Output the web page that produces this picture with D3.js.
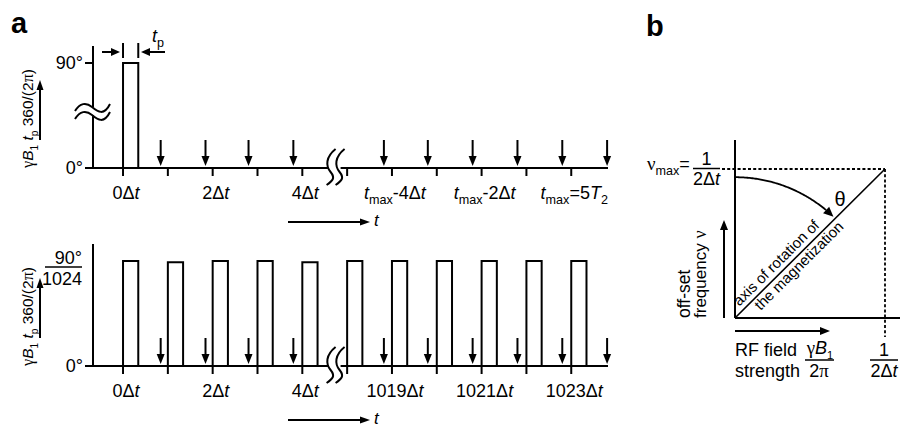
<!DOCTYPE html>
<html><head><meta charset="utf-8">
<script src="https://cdn.jsdelivr.net/npm/d3@7"></script>
<style>
body{margin:0;background:#fff}
svg{display:block}
text{font-family:"Liberation Sans",Arial,Helvetica,sans-serif;fill:#000;white-space:pre}
</style>
</head><body>
<svg id="c" width="901" height="427"></svg>
<script>
// ---------------- data ----------------
const tickIndex = [0,1,2,3,4,5,6,7,8,9,10];
const labelIndex = [0,2,4,6,8,10];
const topTickLabels = ["0Δ*t*","2Δ*t*","4Δ*t*","*t*_max_-4Δ*t*","*t*_max_-2Δ*t*","*t*_max_=5*T*_2_"];
const bottomTickLabels = ["0Δ*t*","2Δ*t*","4Δ*t*","1019Δ*t*","1021Δ*t*","1023Δ*t*"];
const topPulseStart = [0];
const topPulseAngle = [90];
const bottomPulseStart = [0,1,2,3,4,5,6,7,8,9,10];
const bottomPulseAngle = [90,89,90,90,89,90,90,90,90,90,90]; // in units of 1/1024
const pulseWidth = 0.34;          // t_p in units of Δt
const acquireIndex = [0.84,1.84,2.8,3.8,5.82,6.8,7.8,8.8,9.8,10.8];
const breakIndex = 4.72;
const yTickValues = [0,90];
const yTickLabels = ["0°","90°"];
const bottomDivisor = "1024";
const yAxisLabel = "~γ~*B*_1_ *t*_p_ 360/(2~π~)";
const tpLabel = "*t*_p_";
const timeLabel = "*t*";
// panel b
const rotationAxis = [[0,0],[1,1]];
const nuMaxLabel = "~ν~_max_=";
const arcRadius = 0.945, arcFrom = 90, arcTo = 45.6;
const thetaLabel = "θ";
const bYLabel = ["off-set","frequency ~ν~"];
const bXLabel = ["RF field","strength"];

// ---------------- helpers ----------------
const svg = d3.select('#c');
const SERIF = '"Liberation Serif","Times New Roman",serif';
function rich(t, str, size, subScale=0.7){
  t.attr('font-size', size);
  const parts = str.split(/(\*[^*]+\*|_[^_]+_|~[^~]+~)/).filter(s=>s.length);
  let shift = 0;
  parts.forEach(p=>{
    let txt=p, it=false, sub=false, serif=false;
    if(p[0]==='*'){txt=p.slice(1,-1);it=true;}
    else if(p[0]==='_'){txt=p.slice(1,-1);sub=true;}
    else if(p[0]==='~'){txt=p.slice(1,-1);serif=true;}
    const ts = t.append('tspan').text(txt);
    if(it) ts.attr('font-style','italic');
    if(serif) ts.attr('font-family',SERIF).attr('font-size',size*1.05);
    const target = sub ? size*0.3 : 0;
    if(target!==shift){ ts.attr('dy', target-shift); shift=target; }
    if(sub) ts.attr('font-size', size*subScale);
  });
  return t;
}
function arrow(g,x1,y1,x2,y2,head=9,hw=4,sw=2){
  const dx=x2-x1, dy=y2-y1, L=Math.hypot(dx,dy), ux=dx/L, uy=dy/L;
  const bx=x2-ux*head, by=y2-uy*head;
  g.append('line').attr('x1',x1).attr('y1',y1).attr('x2',bx+ux).attr('y2',by+uy)
    .attr('stroke','#000').attr('stroke-width',sw);
  g.append('path').attr('d',`M${x2},${y2}L${bx-uy*hw},${by+ux*hw}L${bx+uy*hw},${by-ux*hw}Z`).attr('fill','#000');
}
function line(g,x1,y1,x2,y2,sw=2){
  return g.append('line').attr('x1',x1).attr('y1',y1).attr('x2',x2).attr('y2',y2)
    .attr('stroke','#000').attr('stroke-width',sw);
}

// ---------------- panel a ----------------
const x = d3.scaleLinear().domain([-0.67, 10.82]).range([93, 608]);
const yTop = d3.scaleLinear().domain([0,90]).range([168,63]);
const yBot = d3.scaleLinear().domain([0,90]).range([366,261]);

function panel(y, pulseStart, pulseAngle, labels, isTop){
  const g = svg.append('g');
  const y0 = y(0), xa = x.range()[0], xe = x.range()[1];
  const axisTop = y(104.5);
  // y axis
  if(isTop){
    line(g,xa,y0,xa,115);
    line(g,xa,107,xa,axisTop);
    g.append('path').attr('d','M75,111 C80,103 86,102 92,107 S104,116 110,104').attr('fill','none').attr('stroke','#000').attr('stroke-width',2);
    g.append('path').attr('d','M75,119 C80,111 86,110 92,115 S104,124 110,112').attr('fill','none').attr('stroke','#000').attr('stroke-width',2);
  } else {
    line(g,xa,y0,xa,axisTop);
  }
  // baseline with break
  const bx = x(breakIndex);
  line(g,xa,y0,bx-6,y0,2.2);
  line(g,bx+6,y0,xe,y0,2.2);
  [-5,4].forEach(o=>{
    const c=bx+o;
    g.append('path').attr('d',`M${c+6},${y0-19} C${c-4},${y0-11} ${c-4},${y0-2} ${c+1},${y0+4} S${c+3},${y0+13} ${c-3},${y0+17}`)
      .attr('fill','none').attr('stroke','#000').attr('stroke-width',2);
  });
  // ticks
  tickIndex.forEach(i=>line(g,x(i),y0,x(i),y0+8,2));
  // pulses
  pulseStart.forEach((s,k)=>{
    g.append('path').attr('d',`M${x(s)},${y0}V${y(pulseAngle[k])}H${x(s+pulseWidth)}V${y0}`)
      .attr('fill','none').attr('stroke','#000').attr('stroke-width',2);
  });
  // acquisition arrows
  acquireIndex.forEach(a=>arrow(g,x(a),y0-28,x(a),y0-2,10,4,2));
  // x tick labels
  labelIndex.forEach((i,k)=>{
    rich(g.append('text').attr('x',x(i)+3).attr('y',y0+31).attr('text-anchor','middle'), labels[k], 18);
  });
  // time arrow
  arrow(g,288,y0+54,370,y0+54,10,3.5,2);
  rich(g.append('text').attr('x',374).attr('y',y0+58),timeLabel,17);
  // y tick labels
  line(g,85,y0,xa,y0,2);
  g.append('text').attr('x',83).attr('y',y0+6).attr('text-anchor','end').attr('font-size',18).text(yTickLabels[0]);
  if(isTop){
    line(g,85,y(90),xa,y(90),2);
    g.append('text').attr('x',83).attr('y',y(90)+6).attr('text-anchor','end').attr('font-size',18).text(yTickLabels[1]);
  } else {
    g.append('text').attr('x',82).attr('y',y(90)+3).attr('text-anchor','end').attr('font-size',18).text(yTickLabels[1]);
    line(g,45,y(90)+6,82,y(90)+6,1.5);
    g.append('text').attr('x',82).attr('y',y(90)+24).attr('text-anchor','end').attr('font-size',18).text(bottomDivisor);
  }
  // y axis label + arrow
  rich(g.append('text').attr('transform',`translate(33,${y0}) rotate(-90)`), yAxisLabel, 15.5, 0.65);
  arrow(g,40,y0-28,40,y0-88,10,3.5,2);
  return g;
}

const gTop = panel(yTop, topPulseStart, topPulseAngle, topTickLabels, true);
const gBot = panel(yBot, bottomPulseStart, bottomPulseAngle, bottomTickLabels, false);

// t_p annotation
line(gTop,x(0),43,x(0),58,2);
line(gTop,x(pulseWidth),43,x(pulseWidth),58,2);
arrow(gTop,102,52,120,52,9,4,2);
arrow(gTop,165,52,141,52,9,4,2);
rich(gTop.append('text').attr('x',152).attr('y',42),tpLabel,18);

// panel labels
svg.append('text').attr('x',11).attr('y',33).attr('font-size',29).attr('font-weight','bold').text('a');
svg.append('text').attr('x',646).attr('y',36).attr('font-size',29).attr('font-weight','bold').text('b');

// ---------------- panel b ----------------
const xb = d3.scaleLinear().domain([0,1]).range([735,885]);
const yb = d3.scaleLinear().domain([0,1]).range([318,169]);
const gb = svg.append('g');
// axes
line(gb,xb(0),yb(0),xb(0),yb(1.195),2);
line(gb,xb(0),yb(0),xb(1.1),yb(0),2.2);
// dashed limits
line(gb,722,yb(1),xb(1),yb(1),1.8).attr('stroke-dasharray','3,2.2');
line(gb,xb(1),yb(1),xb(1),yb(-0.128),1.8).attr('stroke-dasharray','3,2.2');
// rotation axis
gb.append('path').attr('d',d3.line().x(d=>xb(d[0])).y(d=>yb(d[1]))(rotationAxis))
  .attr('fill','none').attr('stroke','#000').attr('stroke-width',1.6);
// arc with arrow
const angs = d3.range(arcFrom, arcTo-0.01, -0.5);
const arcPts = angs.map(a=>[arcRadius*Math.cos(a*Math.PI/180), arcRadius*Math.sin(a*Math.PI/180)]);
const scr = arcPts.map(p=>[xb(p[0]),yb(p[1])]);
const tip = scr[scr.length-1];
const prev = scr[scr.length-6];
{
  const dx=tip[0]-prev[0], dy=tip[1]-prev[1], L=Math.hypot(dx,dy), ux=dx/L, uy=dy/L;
  const head=10, hw=4.5, bx=tip[0]-ux*head, by=tip[1]-uy*head;
  const trimmed = scr.filter(p=>((p[0]-bx)*ux+(p[1]-by)*uy) < 1);
  gb.append('path').attr('d',d3.line()(trimmed)).attr('fill','none').attr('stroke','#000').attr('stroke-width',1.8);
  gb.append('path').attr('d',`M${tip[0]},${tip[1]}L${bx-uy*hw},${by+ux*hw}L${bx+uy*hw},${by-ux*hw}Z`).attr('fill','#000');
}
gb.append('text').attr('x',840).attr('y',206).attr('text-anchor','middle').attr('font-family',SERIF).attr('font-size',20).text(thetaLabel);
// nu max label
rich(gb.append('text').attr('x',647).attr('y',170),nuMaxLabel,18);
gb.append('text').attr('x',706.5).attr('y',165).attr('text-anchor','middle').attr('font-size',18).text('1');
line(gb,693,168.5,720,168.5,1.5);
rich(gb.append('text').attr('x',706.5).attr('y',185).attr('text-anchor','middle'),"2Δ*t*",18);
// diagonal texts
const ang = Math.atan2(yb(1)-yb(0), xb(1)-xb(0))*180/Math.PI;
const gd = gb.append('g').attr('transform',`translate(${xb(0)},${yb(0)}) rotate(${ang})`);
gd.append('text').attr('x',11).attr('y',-5).attr('font-size',15).text('axis of rotation of');
gd.append('text').attr('x',23).attr('y',13).attr('font-size',15).text('the magnetization');
// y label
rich(gb.append('text').attr('transform','translate(690,318) rotate(-90)'),bYLabel[0],17.5);
rich(gb.append('text').attr('transform','translate(706,318) rotate(-90)'),bYLabel[1],17);
arrow(gb,724,318,724,220,10,4,2);
// x label
arrow(gb,735,331,830,331,10,4,2);
gb.append('text').attr('x',735).attr('y',356).attr('font-size',18).text(bXLabel[0]);
gb.append('text').attr('x',735).attr('y',377).attr('font-size',18).text(bXLabel[1]);
rich(gb.append('text').attr('x',820).attr('y',354).attr('text-anchor','middle'),"~γ~*B*_1_",18,0.62);
line(gb,805,360,834,360,1.5);
rich(gb.append('text').attr('x',819).attr('y',377).attr('text-anchor','middle'),"2~π~",18);
gb.append('text').attr('x',884).attr('y',356).attr('text-anchor','middle').attr('font-size',18).text('1');
line(gb,870,360,898,360,1.5);
rich(gb.append('text').attr('x',884).attr('y',377).attr('text-anchor','middle'),"2Δ*t*",18);
</script>
</body></html>
